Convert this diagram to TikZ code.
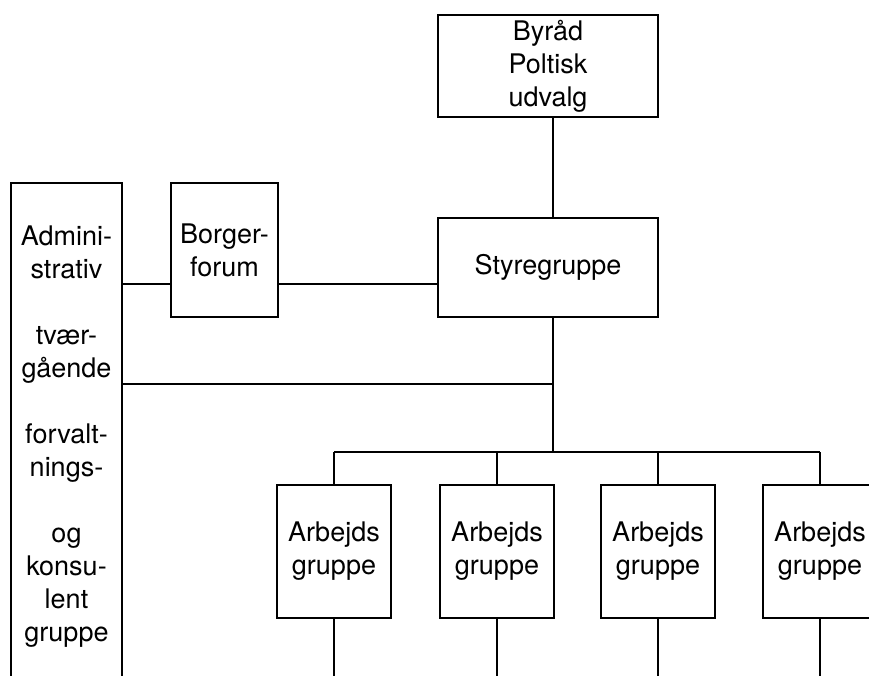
\documentclass[tikz,border=0pt]{standalone}
\usepackage{fontspec}
\setmainfont{TeX Gyre Heros}
\usetikzlibrary{calc}

\begin{document}
\begin{tikzpicture}[x=1pt, y=-1pt,
    box/.style={draw, line width=2.6pt, rectangle, align=center, inner sep=0pt,
        font=\fontsize{27}{33}\selectfont},
    link/.style={line width=2.6pt}]
    \useasboundingbox (0,0) rectangle (869,676);
    \clip (0,0) rectangle (869,676);

    \node[box, minimum width=220pt, minimum height=102pt] (byrad) at (548,66) {Byråd\\Poltisk\\udvalg};
    \node[box, minimum width=220pt, minimum height=99pt] (styre) at (548,267.5) {Styregruppe};
    \node[box, minimum width=107pt, minimum height=134pt] (borger) at (224.5,250) {Borger-\\forum};
    \node[box, minimum width=111pt, minimum height=507pt] (admin) at (66.5,436.5)
        {Admini-\\strativ\\[33pt]tvær-\\gående\\[33pt]forvalt-\\nings-\\[33pt]og\\konsu-\\lent\\gruppe};

    \coordinate (trunk) at (553,0);
    \coordinate (lk) at (0,284);
    \coordinate (side) at (553,384);
    \coordinate (bus) at (553,452);

    \draw[link] (byrad.south -| trunk) -- (styre.north -| trunk);
    \draw[link] (admin.east |- lk) -- (borger.west |- lk);
    \draw[link] (borger.east |- lk) -- (styre.west |- lk);
    \draw[link] (styre.south -| trunk) -- (bus);
    \draw[link] (admin.east |- side) -- (side);

    \foreach \x [count=\i] in {334,497,658,820} {
        \node[box, minimum width=114pt, minimum height=133pt] (arb\i) at (\x,551.5) {Arbejds\\gruppe};
        \coordinate (end\i) at (\x,700);
        \draw[link] (arb\i.north) -- (arb\i.north |- bus);
        \draw[link] (arb\i.south) -- (end\i);
    }
    \draw[link] (arb1.north |- bus) -- (arb4.north |- bus);
\end{tikzpicture}
\end{document}
